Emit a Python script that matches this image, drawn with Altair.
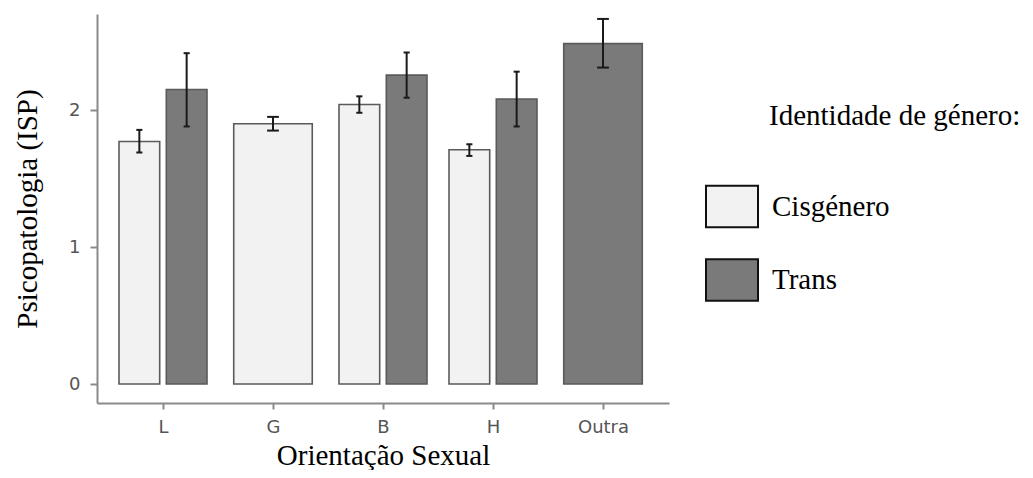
import json
import altair as alt
import pandas as pd

# ---- data ----
categories = ["L", "G", "B", "H", "Outra"]
groups = ["Cisgénero", "Trans"]
fill_colors = ["#f2f2f2", "#7a7a7a"]

orientacao = ["L", "L", "G", "B", "B", "H", "H", "Outra"]
identidade = ["Cisgénero", "Trans", "Cisgénero", "Cisgénero", "Trans", "Cisgénero", "Trans", "Trans"]
media = [1.77, 2.15, 1.90, 2.04, 2.255, 1.71, 2.08, 2.485]
inferior = [1.69, 1.88, 1.85, 1.98, 2.09, 1.665, 1.88, 2.31]
superior = [1.855, 2.415, 1.95, 2.10, 2.42, 1.75, 2.28, 2.665]

y_ticks = [0, 1, 2]
x_title = "Orientação Sexual"
y_title = "Psicopatologia (ISP)"
legend_title = "Identidade de género:"

df = pd.DataFrame({
    "orientacao": orientacao,
    "identidade": identidade,
    "media": media,
    "inferior": inferior,
    "superior": superior,
})

SERIF = "Liberation Serif"
SANS = "DejaVu Sans"
AXIS_GRAY = "#8a8a8a"

x_scale = alt.Scale(domain=[0.4, len(categories) + 0.6], nice=False, zero=False)
y_scale = alt.Scale(domain=[-0.1387, 2.701], nice=False, zero=False)

x_axis = alt.Axis(
    values=list(range(1, len(categories) + 1)),
    labelExpr=f"{json.dumps(categories)}[datum.value - 1]",
    title=x_title, titleFont=SERIF, titleFontSize=29, titleFontWeight="normal",
    titleColor="black", titlePadding=5,
    labelFont=SANS, labelFontSize=18, labelColor="#555555", labelPadding=9,
    labelAngle=0, domainColor=AXIS_GRAY, domainWidth=2, tickColor=AXIS_GRAY,
    tickWidth=2, tickSize=6, grid=False,
)
y_axis = alt.Axis(
    values=y_ticks, format="d",
    title=y_title, titleFont=SERIF, titleFontSize=29, titleFontWeight="normal",
    titleColor="black", titlePadding=26,
    labelFont=SANS, labelFontSize=18, labelColor="#555555", labelPadding=10,
    domainColor=AXIS_GRAY, domainWidth=2, tickColor=AXIS_GRAY,
    tickWidth=2, tickSize=7, grid=False,
)

base = alt.Chart(df).transform_joinaggregate(
    n="count()", groupby=["orientacao"]
).transform_calculate(
    idx=f"indexof({json.dumps(categories)}, datum.orientacao) + 1",
    g=f"indexof({json.dumps(groups)}, datum.identidade)",
).transform_calculate(
    center="datum.idx + (datum.n > 1 ? (datum.g == 0 ? -0.215 : 0.215) : 0)",
    hw="datum.n > 1 ? 0.185 : 0.357",
).transform_calculate(
    x1="datum.center - datum.hw",
    x2="datum.center + datum.hw",
    c1="datum.center - 0.15 * datum.hw",
    c2="datum.center + 0.15 * datum.hw",
)

bars = base.mark_bar(stroke="#5a5a5a", strokeWidth=1.6).encode(
    x=alt.X("x1:Q", scale=x_scale, axis=x_axis),
    x2="x2:Q",
    y=alt.Y("media:Q", scale=y_scale, axis=y_axis),
    y2=alt.Y2(datum=0),
    fill=alt.Fill(
        "identidade:N",
        scale=alt.Scale(domain=groups, range=fill_colors),
        legend=alt.Legend(
            title=None, orient="none", legendX=608, legendY=165.5,
            symbolType="M-1,-0.8H1V0.8H-1Z", symbolSize=2704,
            symbolStrokeColor="#111111", symbolStrokeWidth=2, symbolOpacity=1,
            labelFont=SERIF, labelFontSize=29, labelColor="black",
            labelOffset=13, rowPadding=21.5, padding=0, labelLimit=400,
        ),
    ),
)

err_color = "#1a1a1a"
stems = base.mark_rule(color=err_color, strokeWidth=2).encode(
    x=alt.X("center:Q", scale=x_scale, axis=x_axis),
    y=alt.Y("inferior:Q", scale=y_scale, axis=y_axis),
    y2="superior:Q",
)
caps_low = base.mark_rule(color=err_color, strokeWidth=2).encode(
    x=alt.X("c1:Q", scale=x_scale, axis=x_axis),
    x2="c2:Q",
    y=alt.Y("inferior:Q", scale=y_scale, axis=y_axis),
)
caps_high = base.mark_rule(color=err_color, strokeWidth=2).encode(
    x=alt.X("c1:Q", scale=x_scale, axis=x_axis),
    x2="c2:Q",
    y=alt.Y("superior:Q", scale=y_scale, axis=y_axis),
)

legend_head = alt.Chart(pd.DataFrame({"t": [legend_title]})).mark_text(
    font=SERIF, fontSize=29, color="black", align="left", baseline="alphabetic"
).encode(
    text="t:N", x=alt.value(672), y=alt.value(111)
)

chart = alt.layer(bars, stems, caps_low, caps_high, legend_head).properties(
    width=572, height=389,
    background="white",
    autosize=alt.AutoSizeParams(type="none"),
    padding={"left": 89, "top": 6, "right": 356, "bottom": 67},
).configure_view(stroke=None, strokeWidth=0)

chart.save("out.html", embed_options={"renderer": "svg", "actions": False})
